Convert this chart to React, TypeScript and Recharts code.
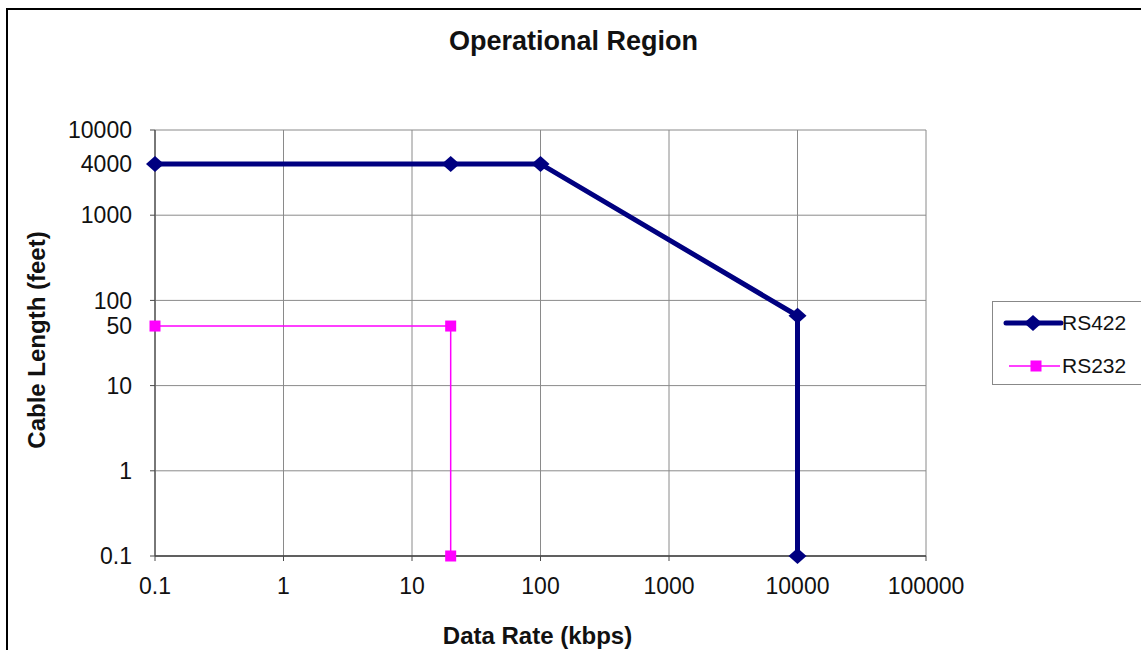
import { LineChart, Line, XAxis, YAxis, ReferenceLine, Legend } from 'recharts';

/* -------------------------------------------------------------------------- */
/*  Data                                                                      */
/* -------------------------------------------------------------------------- */

const RS422_RATE = [0.1, 20, 100, 10000, 10000];
const RS422_LENGTH = [4000, 4000, 4000, 66, 0.1];

const RS232_RATE = [0.1, 20, 20];
const RS232_LENGTH = [50, 50, 0.1];

const X_TICKS = [0.1, 1, 10, 100, 1000, 10000, 100000];
const Y_TICKS = [0.1, 1, 10, 50, 100, 1000, 4000, 10000];
const Y_GRID = [0.1, 1, 10, 100, 1000, 10000];

const rs422 = RS422_RATE.map((x, i) => ({ x, y: RS422_LENGTH[i] }));
const rs232 = RS232_RATE.map((x, i) => ({ x, y: RS232_LENGTH[i] }));

const FONT = '"Liberation Sans", Arial, sans-serif';
const NAVY = '#000080';
const MAGENTA = '#ff00ff';
const GRID = '#8a8a8a';
const AXIS = '#4a4a4a';

/* -------------------------------------------------------------------------- */
/*  Markers                                                                   */
/* -------------------------------------------------------------------------- */

function Diamond({ cx, cy }: { cx: number; cy: number }) {
  return (
    <path
      d={`M${cx},${cy - 8} L${cx + 9},${cy} L${cx},${cy + 8} L${cx - 9},${cy} Z`}
      fill={NAVY}
    />
  );
}

function Square({ cx, cy }: { cx: number; cy: number }) {
  return <rect x={cx - 5.5} y={cy - 5.5} width={11} height={11} fill={MAGENTA} />;
}

/* -------------------------------------------------------------------------- */
/*  Y tick: tick mark only on decades                                         */
/* -------------------------------------------------------------------------- */

function YTick({ x, y, payload }: { x: number; y: number; payload: { value: number } }) {
  const v = payload.value;
  return (
    <g>
      {Y_GRID.includes(v) && <line x1={x + 18} x2={x + 23} y1={y} y2={y} stroke={AXIS} />}
      <text x={x} y={y} dy="0.355em" textAnchor="end" fontSize={23} fontFamily={FONT} fill="#111">
        {v}
      </text>
    </g>
  );
}

/* -------------------------------------------------------------------------- */
/*  Legend                                                                    */
/* -------------------------------------------------------------------------- */

function ChartLegend() {
  return (
    <div
      style={{
        border: '1px solid #888',
        width: 170,
        height: 84,
        boxSizing: 'border-box',
        fontFamily: FONT,
        fontSize: 21,
        color: '#111',
        background: '#fff',
      }}
    >
      <svg width={170} height={84} style={{ display: 'block' }}>
        <line x1={13} x2={68} y1={21} y2={21} stroke={NAVY} strokeWidth={5} strokeLinecap="round" />
        <Diamond cx={40} cy={21} />
        <text x={69} y={21} dy="0.355em" fontSize={21} fontFamily={FONT} fill="#111">
          RS422
        </text>
        <line x1={16} x2={67} y1={64} y2={64} stroke={MAGENTA} strokeWidth={1.5} />
        <Square cx={43} cy={64} />
        <text x={69} y={64} dy="0.355em" fontSize={21} fontFamily={FONT} fill="#111">
          RS232
        </text>
      </svg>
    </div>
  );
}

/* -------------------------------------------------------------------------- */
/*  App                                                                       */
/* -------------------------------------------------------------------------- */

export default function App() {
  return (
    <div
      style={{
        position: 'absolute',
        left: 0,
        top: 0,
        width: 1141,
        height: 650,
        overflow: 'hidden',
        background: '#fff',
        fontFamily: FONT,
      }}
    >
      <div
        style={{
          position: 'absolute',
          left: 6,
          top: 8,
          width: 1200,
          height: 700,
          borderLeft: '2.5px solid #000',
          borderTop: '2.5px solid #000',
        }}
      />
      <div
        style={{
          position: 'absolute',
          left: 0,
          width: 1141,
          top: 26,
          textAlign: 'center',
          paddingLeft: 2,
          fontWeight: 'bold',
          fontSize: 27,
          color: '#111',
        }}
      >
        <span style={{ position: 'relative', left: 1 }}>Operational Region</span>
      </div>

      <div style={{ position: 'absolute', left: 0, top: 0 }}>
        <LineChart width={1141} height={650} margin={{ top: 130, right: 215, bottom: 64, left: 0 }}>
          <XAxis
            dataKey="x"
            type="number"
            scale="log"
            domain={[0.1, 100000]}
            ticks={X_TICKS}
            tickFormatter={(v: number) => String(v)}
            height={30}
            tickSize={5}
            tickMargin={17}
            stroke={AXIS}
            tick={{ fill: '#111', fontSize: 23, fontFamily: FONT }}
          />
          <YAxis
            type="number"
            scale="log"
            domain={[0.1, 10000]}
            ticks={Y_TICKS}
            width={155}
            tickSize={5}
            tickMargin={18}
            tickLine={false}
            stroke={AXIS}
            tick={(p: any) => <YTick {...p} />}
          />
          {X_TICKS.map((v) => (
            <ReferenceLine key={`x${v}`} x={v} stroke={v === 0.1 ? AXIS : GRID} strokeWidth={1} />
          ))}
          {Y_GRID.map((v) => (
            <ReferenceLine key={`y${v}`} y={v} stroke={v === 0.1 ? AXIS : GRID} strokeWidth={v === 0.1 ? 1.5 : 1} />
          ))}
          <Line
            data={rs232}
            dataKey="y"
            name="RS232"
            type="linear"
            stroke={MAGENTA}
            strokeWidth={1.5}
            dot={(p: any) => <Square key={`s${p.index}`} cx={p.cx} cy={p.cy} />}
            activeDot={false}
            isAnimationActive={false}
          />
          <Line
            data={rs422}
            dataKey="y"
            name="RS422"
            type="linear"
            stroke={NAVY}
            strokeWidth={5}
            dot={(p: any) => <Diamond key={`d${p.index}`} cx={p.cx} cy={p.cy} />}
            activeDot={false}
            isAnimationActive={false}
          />
          <Legend
            layout="horizontal"
            verticalAlign="middle"
            align="center"
            content={<ChartLegend />}
            wrapperStyle={{ left: 992, top: 301, width: 170, height: 84 }}
          />
        </LineChart>
      </div>

      <div
        style={{
          position: 'absolute',
          left: 155,
          width: 771,
          top: 622,
          textAlign: 'center',
          fontWeight: 'bold',
          fontSize: 24,
          color: '#111',
        }}
      >
        <span style={{ position: 'relative', left: -3 }}>Data Rate (kbps)</span>
      </div>
      <div
        style={{
          position: 'absolute',
          left: 37,
          top: 340,
          transform: 'translate(-50%, -50%) rotate(-90deg)',
          whiteSpace: 'nowrap',
          fontWeight: 'bold',
          fontSize: 24,
          color: '#111',
        }}
      >
        Cable Length (feet)
      </div>
    </div>
  );
}
